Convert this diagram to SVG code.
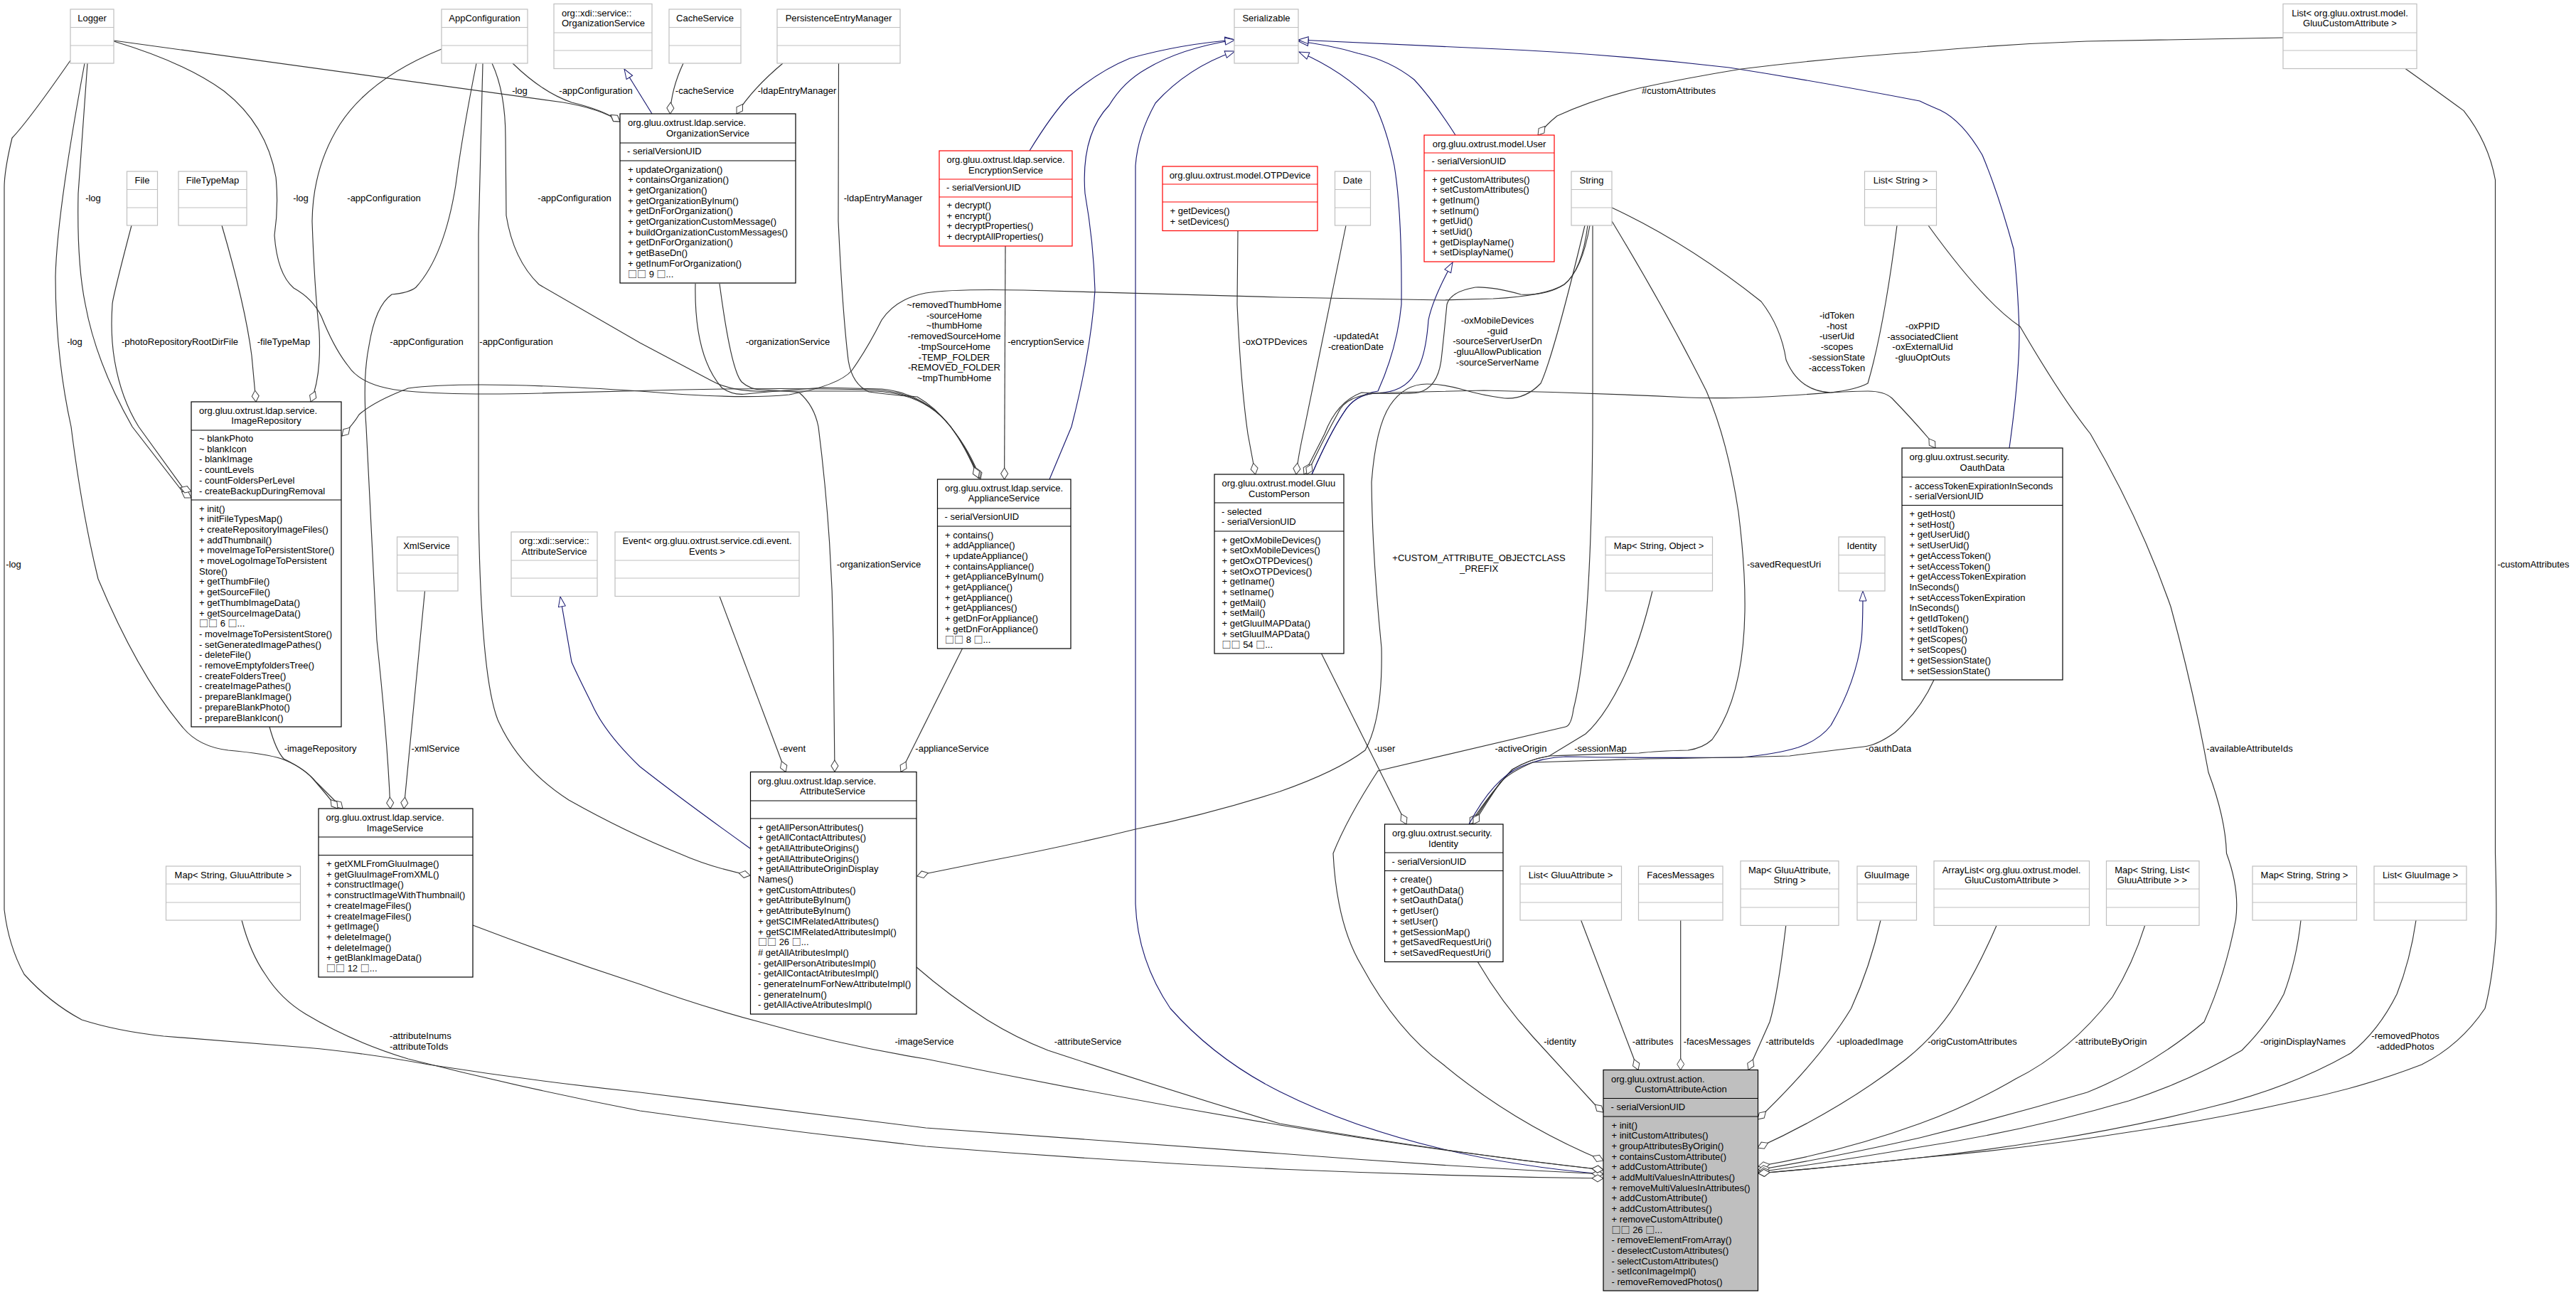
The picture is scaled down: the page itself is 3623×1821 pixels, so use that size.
<svg xmlns="http://www.w3.org/2000/svg" width="3623" height="1821" viewBox="0 0 3623 1821">
<style>
text{font-family:"Liberation Sans",Arial,sans-serif;font-size:13px;fill:#000}
.m{text-anchor:middle}
.q{font-family:"Noto Sans CJK SC",sans-serif}
rect{fill:#fff;stroke-width:1.2}
line{stroke-width:1.2}
.g rect,.g line{stroke:#bfbfbf;stroke-width:1.2}
.k rect,.k line{stroke:#000}
.r rect,.r line{stroke:#f00}
.a rect{fill:#bfbfbf}
.e path{fill:none;stroke:#333;stroke-width:1.15;marker-end:url(#dia)}
.e path.b{stroke:#191970;marker-end:url(#tri)}
.e path.n{stroke:#191970;marker-end:none}
</style>
<defs>
<marker id="dia" markerUnits="userSpaceOnUse" markerWidth="18" markerHeight="12" viewBox="-1 -1 18 12" refX="16" refY="5" orient="auto"><polygon points="0,5 8,0 16,5 8,10" fill="#fff" stroke="#404040"/></marker>
<marker id="tri" markerUnits="userSpaceOnUse" markerWidth="16" markerHeight="12" viewBox="-1 -1 16 12" refX="14" refY="5" orient="auto"><polygon points="0,0 14,5 0,10" fill="#fff" stroke="#191970"/></marker>
</defs>
<rect width="3623" height="1821" style="fill:#fff;stroke:none"/>
<g id="connectors" class="e">
<path d="M160,57 L792,144 Q845,153 872,171"/>
<path d="M721,89 Q763,130 804,144 Q850,155 872,171"/>
<path class="b" d="M917,160 L878,97"/>
<path d="M961,89 Q944,125 942.5,160"/>
<path d="M1101,89 Q1058,125 1036,160"/>
<path d="M1179.5,89 L1179,311 Q1185,440 1193,506 Q1198,540 1222,551 Q1260,556 1290,558 Q1315,572 1337,600 Q1365,635 1379,674"/>
<path d="M160,58 Q260,88 315,128 Q375,175 388,249 Q392,290 386,331 Q390,385 413,405 Q440,420 452,445 Q470,490 490,515 Q510,545 574,550 Q640,556 760,553 L960,548 Q1100,545 1230,548 Q1300,552 1337,600 Q1362,632 1376,672"/>
<path d="M692,89 Q711,130 711,194 L712,303 Q722,365 758,400 L900,482 L1000,535 Q1030,552 1080,550 L1230,550 Q1300,553 1337,600 Q1360,630 1378,672"/>
<path d="M978,399 Q976,500 1015,545 Q1030,556 1049,554 Q1110,548 1158,545 L1240,547 Q1300,553 1337,600 Q1358,628 1376,672"/>
<path d="M1012,399 Q1028,520 1043,537 Q1055,548 1072,548 Q1110,550 1124,552 Q1145,570 1151,600 Q1170,750 1172,900 L1174,1085"/>
<path d="M679,89 L673,330 L673,717 Q676,950 700,1012 Q730,1080 800,1125 Q880,1170 955,1200 Q1000,1220 1055,1231"/>
<path d="M621,69 Q520,110 478,175 Q440,235 439,311 Q442,400 449,467 Q452,530 437,565"/>
<path d="M670,89 Q650,190 641,260 Q625,360 585,404 Q575,412 551,414 Q528,430 519,486 Q510,530 515,600 L530,900 Q545,1040 549,1137"/>
<path d="M597.5,831 L568,1137"/>
<path d="M379,1022 Q388,1055 399,1067 Q430,1082 445,1100 Q465,1120 482,1137"/>
<path d="M119,89 Q80,300 78,389 Q78,500 100,600 Q115,720 138,814 Q195,950 258,1024 Q280,1050 321,1055 Q375,1060 396,1067 Q425,1078 440,1095 Q460,1118 475,1137"/>
<path d="M123,89 L110,272 Q108,370 120,428 Q135,510 186,600 L258,693 L269,700"/>
<path d="M185,317 Q158,420 158,428 Q155,470 161,506 Q170,560 195,600 L258,687 L269,691"/>
<path d="M312,317 Q345,430 354,500 L360,565"/>
<path d="M2236,317 Q2225,380 2200,400 Q2175,416 2100,420 L2030,422 L1800,418 L1440,408 Q1340,406 1302,412 Q1260,420 1240,450 Q1220,490 1198,521 Q1180,542 1110,555 Q1040,562 900,550 Q760,541 677,541 Q610,541 574,546 Q525,565 505,583 Q498,595 481,613"/>
<path class="b" d="M1448,212 Q1480,160 1503,136 Q1545,100 1589,82 Q1660,62 1737,56"/>
<path class="b" d="M1476,674 L1507,600 Q1535,490 1540,408 Q1538,340 1526,272 Q1520,190 1560,148 Q1580,115 1612,97 Q1660,68 1737,56"/>
<path class="b" d="M2255,1651 Q2130,1640 2030,1616 Q1900,1585 1800,1535 Q1710,1490 1646,1418 Q1600,1350 1597,1271 L1597,233 Q1600,190 1625,145 Q1670,95 1737,72"/>
<path class="b" d="M1055,1193 Q960,1125 900,1078 Q850,1030 832,989 Q810,945 804,931 Q795,880 788,839"/>
<path d="M1012,838.5 L1105,1085.5"/>
<path d="M1353.5,912 L1267,1085.5"/>
<path d="M1414,346 L1412.6,674"/>
<path d="M1741,324 L1740,428 Q1745,540 1755,610 L1765.6,667"/>
<path d="M1893,317 Q1860,480 1835,600 Q1826,640 1823,667"/>
<path class="b" d="M1845,667 Q1870,610 1890,580 Q1905,555 1935,553 Q1975,552 1990,525 Q2005,505 2009,450 Q2015,420 2043,369"/>
<path class="b" d="M1845,667 Q1870,610 1890,580 Q1905,555 1938,550 Q1965,490 1971,428 Q1972,300 1961,233 Q1950,180 1932,144 Q1890,100 1827,73"/>
<path class="b" d="M2047,190 Q2015,140 1989,112 Q1955,85 1910,75 Q1870,63 1826,58"/>
<path class="b" d="M2826,630 Q2840,530 2840,467 Q2838,400 2832,350 Q2810,270 2788,218 Q2760,170 2729,155 Q2710,147 2700,142 Q2560,115 2432,95 Q2260,75 2087,68 L1826,56"/>
<path d="M2233,317 Q2225,380 2200,400 Q2175,416 2139,414 Q2100,403 2075,404 Q2040,410 2035,428 Q2030,480 2027,506 Q2022,545 1995,552 Q1975,555 1915,552 Q1880,565 1863,610 L1834,667"/>
<path d="M2229,317 Q2185,500 2167,539 Q2145,562 2116,560 Q2085,556 2058,548 Q2030,540 2007,540 Q1975,540 1955,570 Q1935,600 1929,678 Q1930,780 1943,911 Q1945,1010 1920,1055 Q1880,1085 1800,1113 Q1700,1145 1597,1166 Q1500,1190 1394,1210 L1300,1229 L1290,1232"/>
<path d="M2668,317 Q2650,460 2627,539 Q2610,548 2575,552 Q2450,562 2374,559 Q2230,552 2087,549 L1955,552 Q1900,552 1885,575 Q1860,620 1838,667"/>
<path d="M2267,292 Q2374,342 2477,424 Q2505,460 2512,506 Q2530,550 2575,552 Q2610,550 2627,550 Q2650,550 2661,560 Q2690,590 2713,617 L2722,630"/>
<path d="M2240,317 L2240,600 Q2238,900 2213,997 Q2210,1020 2202,1022 L1938,1084 Q1895,1150 1875,1200 Q1880,1300 1915,1358 Q1965,1450 2030,1497 Q2130,1580 2255,1632"/>
<path d="M2267,311 Q2345,440 2400,550 Q2430,620 2445,720 Q2455,800 2454,860 Q2452,980 2408,1040 Q2395,1052 2374,1055 Q2330,1056 2305,1059 Q2260,1060 2179,1063 Q2150,1068 2127,1082 Q2100,1110 2070,1159"/>
<path d="M2324,831 Q2305,910 2280,960 Q2255,1010 2230,1032 L2179,1063 Q2150,1068 2127,1082 Q2100,1110 2067,1159"/>
<path class="b" d="M2066,1159 Q2100,1095 2139,1078 Q2170,1065 2202,1064 Q2310,1066 2449,1065 Q2500,1060 2529,1051 Q2560,1040 2575,1020 Q2610,960 2618,900 Q2620,880 2620,831"/>
<path d="M2720,956 Q2700,1000 2665,1030 Q2640,1048 2621,1050 Q2570,1056 2517,1063 Q2400,1066 2317,1067 L2156,1072 Q2125,1085 2110,1100 Q2090,1130 2072,1159"/>
<path d="M1858.5,919 L1978,1159"/>
<path d="M2078,1352 Q2112,1410 2156,1458 L2242,1552 L2255,1564"/>
<path d="M2223.6,1294 L2304,1504.5"/>
<path d="M2363.7,1294 L2363.7,1504.5"/>
<path d="M2511.8,1301.4 Q2500,1400 2489,1437 L2459,1504.5"/>
<path d="M2645,1294 Q2630,1360 2603.6,1418 Q2560,1490 2472,1574"/>
<path d="M2808,1301.4 Q2785,1355 2759,1398 Q2730,1450 2680,1490 Q2590,1560 2472,1614"/>
<path d="M3016.7,1301.4 Q3000,1355 2971,1402 Q2910,1480 2835,1517 Q2770,1555 2700,1580 Q2590,1620 2473,1640"/>
<path d="M2712,317 Q2790,425 2841,459 Q2900,560 2940,610 Q3010,730 3053,853 Q3085,970 3106,1086 Q3130,1150 3131.5,1200 Q3150,1250 3144.5,1293 Q3130,1370 3100,1437 Q3025,1500 2935.5,1536 Q2820,1570 2700,1600 Q2590,1625 2473,1645"/>
<path d="M3236,1294 Q3230,1350 3212,1398 Q3190,1440 3153,1477 Q3080,1520 2994,1548 Q2850,1590 2700,1613 Q2590,1632 2473,1648"/>
<path d="M3398,1294 Q3390,1350 3371,1398 Q3345,1450 3306,1481 Q3220,1530 3112,1556 Q3000,1585 2877,1604 Q2790,1618 2700,1628 Q2590,1640 2473,1650"/>
<path d="M3383,96.5 Q3430,130 3465,155.6 Q3500,200 3509.5,253 L3509.5,1200 Q3512,1290 3510,1319 Q3505,1380 3495,1418 Q3460,1470 3406,1497 Q3320,1530 3230,1548 Q3110,1575 2994,1592 Q2850,1615 2700,1628 Q2590,1640 2473,1650"/>
<path d="M3211,53 Q3070,56 2935,58 Q2820,62 2700,73 Q2570,82 2449,97 Q2370,110 2305,124 Q2240,140 2190,163 Q2175,175 2163,190"/>
<path d="M99,85 Q40,170 17,194 Q6,240 6,264 L6,1279 Q12,1330 34,1370 Q70,1410 115,1434 Q165,1450 230,1457 Q330,1465 430,1473 Q510,1480 603,1497 Q750,1520 900,1536 Q1100,1560 1302,1586 Q1550,1605 1800,1622 Q2030,1640 2255,1651"/>
<path d="M340,1294 Q352,1340 373,1370 Q395,1405 430,1426 Q495,1465 574,1489 Q735,1530 900,1562 Q1100,1590 1302,1612 Q1550,1632 1800,1644 Q2030,1654 2255,1657"/>
<path d="M665,1301 Q780,1345 900,1384 Q985,1415 1072,1438 Q1185,1470 1302,1489 Q1550,1540 1800,1582 Q2030,1620 2255,1645"/>
<path d="M1289,1360 Q1335,1400 1388,1434 Q1430,1460 1474,1477 Q1635,1530 1800,1580 Q2030,1620 2255,1645"/>
<g id="edge-labels">
<text class="m" x="731" y="132">-log</text>
<text class="m" x="838" y="132">-appConfiguration</text>
<text class="m" x="991" y="132">-cacheService</text>
<text class="m" x="1121" y="132">-ldapEntryManager</text>
<text class="m" x="2361" y="132">#customAttributes</text>
<text class="m" x="131" y="283">-log</text>
<text class="m" x="423" y="283">-log</text>
<text class="m" x="540" y="283">-appConfiguration</text>
<text class="m" x="808" y="283">-appConfiguration</text>
<text class="m" x="1242" y="283">-ldapEntryManager</text>
<text class="m" x="105" y="485">-log</text>
<text class="m" x="253" y="485">-photoRepositoryRootDirFile</text>
<text class="m" x="399" y="485">-fileTypeMap</text>
<text class="m" x="600" y="485">-appConfiguration</text>
<text class="m" x="726" y="485">-appConfiguration</text>
<text class="m" x="1108" y="485">-organizationService</text>
<text class="m" x="1471" y="485">-encryptionService</text>
<text class="m" x="1793" y="485">-oxOTPDevices</text>
<text class="m" y="433"><tspan x="1342">~removedThumbHome</tspan><tspan x="1342" dy="14.7">-sourceHome</tspan><tspan x="1342" dy="14.7">~thumbHome</tspan><tspan x="1342" dy="14.7">-removedSourceHome</tspan><tspan x="1342" dy="14.7">-tmpSourceHome</tspan><tspan x="1342" dy="14.7">-TEMP_FOLDER</tspan><tspan x="1342" dy="14.7">-REMOVED_FOLDER</tspan><tspan x="1342" dy="14.7">~tmpThumbHome</tspan></text>
<text class="m" y="477"><tspan x="1907">-updatedAt</tspan><tspan x="1907" dy="14.7">-creationDate</tspan></text>
<text class="m" y="455"><tspan x="2106">-oxMobileDevices</tspan><tspan x="2106" dy="14.7">-guid</tspan><tspan x="2106" dy="14.7">-sourceServerUserDn</tspan><tspan x="2106" dy="14.7">-gluuAllowPublication</tspan><tspan x="2106" dy="14.7">-sourceServerName</tspan></text>
<text class="m" y="448"><tspan x="2583.5">-idToken</tspan><tspan x="2583.5" dy="14.7">-host</tspan><tspan x="2583.5" dy="14.7">-userUid</tspan><tspan x="2583.5" dy="14.7">-scopes</tspan><tspan x="2583.5" dy="14.7">-sessionState</tspan><tspan x="2583.5" dy="14.7">-accessToken</tspan></text>
<text class="m" y="463"><tspan x="2704">-oxPPID</tspan><tspan x="2704" dy="14.7">-associatedClient</tspan><tspan x="2704" dy="14.7">-oxExternalUid</tspan><tspan x="2704" dy="14.7">-gluuOptOuts</tspan></text>
<text class="m" x="19" y="798">-log</text>
<text class="m" x="1236" y="798">-organizationService</text>
<text class="m" y="789"><tspan x="2080">+CUSTOM_ATTRIBUTE_OBJECTCLASS</tspan><tspan x="2080" dy="14.7">_PREFIX</tspan></text>
<text class="m" x="2509" y="798">-savedRequestUri</text>
<text class="m" x="3563" y="798">-customAttributes</text>
<text class="m" x="450.6" y="1057">-imageRepository</text>
<text class="m" x="612.5" y="1057">-xmlService</text>
<text class="m" x="1115" y="1057">-event</text>
<text class="m" x="1339" y="1057">-applianceService</text>
<text class="m" x="1947.5" y="1057">-user</text>
<text class="m" x="2139" y="1057">-activeOrigin</text>
<text class="m" x="2251" y="1057">-sessionMap</text>
<text class="m" x="2656" y="1057">-oauthData</text>
<text class="m" x="3164" y="1057">-availableAttributeIds</text>
<text y="1461"><tspan x="548">-attributeInums</tspan><tspan x="548" dy="14.7">-attributeToIds</tspan></text>
<text class="m" x="1300" y="1469">-imageService</text>
<text class="m" x="1530" y="1469">-attributeService</text>
<text class="m" x="2194" y="1469">-identity</text>
<text class="m" x="2324.6" y="1469">-attributes</text>
<text class="m" x="2415" y="1469">-facesMessages</text>
<text class="m" x="2517.5" y="1469">-attributeIds</text>
<text class="m" x="2630" y="1469">-uploadedImage</text>
<text class="m" x="2774" y="1469">-origCustomAttributes</text>
<text class="m" x="2969" y="1469">-attributeByOrigin</text>
<text class="m" x="3239" y="1469">-originDisplayNames</text>
<text class="m" y="1461"><tspan x="3383">-removedPhotos</tspan><tspan x="3383" dy="14.7">-addedPhotos</tspan></text>
</g>
</g>
<g id="logger" class="g"><rect x="99" y="13" width="61" height="76"/><line x1="99" y1="38.5" x2="160" y2="38.5"/><line x1="99" y1="64" x2="160" y2="64"/><text class="m" x="129.5" y="30">Logger</text></g>
<g id="app-configuration" class="g"><rect x="621" y="13" width="121" height="76"/><line x1="621" y1="38.5" x2="742" y2="38.5"/><line x1="621" y1="64" x2="742" y2="64"/><text class="m" x="681.5" y="30">AppConfiguration</text></g>
<g id="xdi-organization-service" class="g"><rect x="779" y="5.5" width="138" height="91"/><line x1="779" y1="46" x2="917" y2="46"/><line x1="779" y1="71" x2="917" y2="71"/><text y="22.5"><tspan x="790">org::xdi::service::</tspan><tspan x="790" dy="14.7">OrganizationService</tspan></text></g>
<g id="cache-service" class="g"><rect x="941" y="13" width="101" height="76"/><line x1="941" y1="38.5" x2="1042" y2="38.5"/><line x1="941" y1="64" x2="1042" y2="64"/><text class="m" x="991.5" y="30">CacheService</text></g>
<g id="persistence-entry-manager" class="g"><rect x="1093" y="13" width="173" height="76"/><line x1="1093" y1="38.5" x2="1266" y2="38.5"/><line x1="1093" y1="64" x2="1266" y2="64"/><text class="m" x="1179.5" y="30">PersistenceEntryManager</text></g>
<g id="serializable" class="g"><rect x="1736" y="13" width="90" height="76"/><line x1="1736" y1="38.5" x2="1826" y2="38.5"/><line x1="1736" y1="64" x2="1826" y2="64"/><text class="m" x="1781" y="30">Serializable</text></g>
<g id="list-gluu-custom-attribute" class="g"><rect x="3211" y="5.5" width="188" height="91"/><line x1="3211" y1="46" x2="3399" y2="46"/><line x1="3211" y1="71" x2="3399" y2="71"/><text class="m" y="22.5"><tspan x="3305">List&lt; org.gluu.oxtrust.model.</tspan><tspan x="3305" dy="14.7">GluuCustomAttribute &gt;</tspan></text></g>
<g id="organization-service" class="k"><rect x="872" y="160" width="247" height="238"/><line x1="872" y1="201" x2="1119" y2="201"/><line x1="872" y1="226" x2="1119" y2="226"/><text x="883" y="177">org.gluu.oxtrust.ldap.service.</text><text class="m" x="995.5" y="191.5">OrganizationService</text><text x="882" y="217">- serialVersionUID</text><text y="242.5"><tspan x="883">+ updateOrganization()</tspan><tspan x="883" dy="14.7">+ containsOrganization()</tspan><tspan x="883" dy="14.7">+ getOrganization()</tspan><tspan x="883" dy="14.7">+ getOrganizationByInum()</tspan><tspan x="883" dy="14.7">+ getDnForOrganization()</tspan><tspan x="883" dy="14.7">+ getOrganizationCustomMessage()</tspan><tspan x="883" dy="14.7">+ buildOrganizationCustomMessages()</tspan><tspan x="883" dy="14.7">+ getDnForOrganization()</tspan><tspan x="883" dy="14.7">+ getBaseDn()</tspan><tspan x="883" dy="14.7">+ getInumForOrganization()</tspan><tspan x="883" dy="14.7"><tspan class="q">□□</tspan> 9 <tspan class="q">□</tspan>...</tspan></text></g>
<g id="file" class="g"><rect x="178.5" y="241" width="43" height="76"/><line x1="178.5" y1="266.5" x2="221.5" y2="266.5"/><line x1="178.5" y1="292" x2="221.5" y2="292"/><text class="m" x="200" y="258">File</text></g>
<g id="file-type-map" class="g"><rect x="251" y="241" width="96" height="76"/><line x1="251" y1="266.5" x2="347" y2="266.5"/><line x1="251" y1="292" x2="347" y2="292"/><text class="m" x="299" y="258">FileTypeMap</text></g>
<g id="encryption-service" class="r"><rect x="1321" y="212" width="187" height="134"/><line x1="1321" y1="252" x2="1508" y2="252"/><line x1="1321" y1="277" x2="1508" y2="277"/><text x="1331.5" y="229">org.gluu.oxtrust.ldap.service.</text><text class="m" x="1414.5" y="243.7">EncryptionService</text><text x="1331" y="268">- serialVersionUID</text><text y="293"><tspan x="1331.5">+ decrypt()</tspan><tspan x="1331.5" dy="14.7">+ encrypt()</tspan><tspan x="1331.5" dy="14.7">+ decryptProperties()</tspan><tspan x="1331.5" dy="14.7">+ decryptAllProperties()</tspan></text></g>
<g id="otp-device" class="r"><rect x="1635" y="234" width="218" height="90.5"/><line x1="1635" y1="259" x2="1853" y2="259"/><line x1="1635" y1="284" x2="1853" y2="284"/><text class="m" x="1744" y="251">org.gluu.oxtrust.model.OTPDevice</text><text y="301"><tspan x="1645.5">+ getDevices()</tspan><tspan x="1645.5" dy="14.7">+ setDevices()</tspan></text></g>
<g id="date" class="g"><rect x="1877.5" y="241" width="50" height="76"/><line x1="1877.5" y1="266.5" x2="1927.5" y2="266.5"/><line x1="1877.5" y1="292" x2="1927.5" y2="292"/><text class="m" x="1902.5" y="258">Date</text></g>
<g id="user" class="r"><rect x="2003" y="190" width="183" height="178"/><line x1="2003" y1="215" x2="2186" y2="215"/><line x1="2003" y1="240" x2="2186" y2="240"/><text class="m" x="2094.5" y="207">org.gluu.oxtrust.model.User</text><text x="2013.5" y="231">- serialVersionUID</text><text y="256.5"><tspan x="2014">+ getCustomAttributes()</tspan><tspan x="2014" dy="14.7">+ setCustomAttributes()</tspan><tspan x="2014" dy="14.7">+ getInum()</tspan><tspan x="2014" dy="14.7">+ setInum()</tspan><tspan x="2014" dy="14.7">+ getUid()</tspan><tspan x="2014" dy="14.7">+ setUid()</tspan><tspan x="2014" dy="14.7">+ getDisplayName()</tspan><tspan x="2014" dy="14.7">+ setDisplayName()</tspan></text></g>
<g id="string" class="g"><rect x="2210" y="241" width="57" height="76"/><line x1="2210" y1="266.5" x2="2267" y2="266.5"/><line x1="2210" y1="292" x2="2267" y2="292"/><text class="m" x="2238.5" y="258">String</text></g>
<g id="list-string" class="g"><rect x="2622.5" y="241" width="101" height="76"/><line x1="2622.5" y1="266.5" x2="2723.5" y2="266.5"/><line x1="2622.5" y1="292" x2="2723.5" y2="292"/><text class="m" x="2673" y="258">List&lt; String &gt;</text></g>
<g id="image-repository" class="k"><rect x="269" y="565" width="211" height="457"/><line x1="269" y1="605" x2="480" y2="605"/><line x1="269" y1="703" x2="480" y2="703"/><text x="280" y="581.5">org.gluu.oxtrust.ldap.service.</text><text class="m" x="374.5" y="596">ImageRepository</text><text y="621"><tspan x="280">~ blankPhoto</tspan><tspan x="280" dy="14.7">~ blankIcon</tspan><tspan x="280" dy="14.7">- blankImage</tspan><tspan x="280" dy="14.7">- countLevels</tspan><tspan x="280" dy="14.7">- countFoldersPerLevel</tspan><tspan x="280" dy="14.7">- createBackupDuringRemoval</tspan></text><text y="719.5"><tspan x="280">+ init()</tspan><tspan x="280" dy="14.7">+ initFileTypesMap()</tspan><tspan x="280" dy="14.7">+ createRepositoryImageFiles()</tspan><tspan x="280" dy="14.7">+ addThumbnail()</tspan><tspan x="280" dy="14.7">+ moveImageToPersistentStore()</tspan><tspan x="280" dy="14.7">+ moveLogoImageToPersistent</tspan><tspan x="280" dy="14.7">Store()</tspan><tspan x="280" dy="14.7">+ getThumbFile()</tspan><tspan x="280" dy="14.7">+ getSourceFile()</tspan><tspan x="280" dy="14.7">+ getThumbImageData()</tspan><tspan x="280" dy="14.7">+ getSourceImageData()</tspan><tspan x="280" dy="14.7"><tspan class="q">□□</tspan> 6 <tspan class="q">□</tspan>...</tspan><tspan x="280" dy="14.7">- moveImageToPersistentStore()</tspan><tspan x="280" dy="14.7">- setGeneratedImagePathes()</tspan><tspan x="280" dy="14.7">- deleteFile()</tspan><tspan x="280" dy="14.7">- removeEmptyfoldersTree()</tspan><tspan x="280" dy="14.7">- createFoldersTree()</tspan><tspan x="280" dy="14.7">- createImagePathes()</tspan><tspan x="280" dy="14.7">- prepareBlankImage()</tspan><tspan x="280" dy="14.7">- prepareBlankPhoto()</tspan><tspan x="280" dy="14.7">- prepareBlankIcon()</tspan></text></g>
<g id="xml-service" class="g"><rect x="558.5" y="755" width="85.5" height="76"/><line x1="558.5" y1="780.5" x2="644" y2="780.5"/><line x1="558.5" y1="806" x2="644" y2="806"/><text class="m" x="600" y="772">XmlService</text></g>
<g id="xdi-attribute-service" class="g"><rect x="719" y="748" width="121" height="90.5"/><line x1="719" y1="788" x2="840" y2="788"/><line x1="719" y1="813" x2="840" y2="813"/><text class="m" y="765"><tspan x="779.5">org::xdi::service::</tspan><tspan x="779.5" dy="14.7">AttributeService</tspan></text></g>
<g id="event" class="g"><rect x="865" y="748" width="259" height="90.5"/><line x1="865" y1="788" x2="1124" y2="788"/><line x1="865" y1="813" x2="1124" y2="813"/><text class="m" y="765"><tspan x="994.5">Event&lt; org.gluu.oxtrust.service.cdi.event.</tspan><tspan x="994.5" dy="14.7">Events &gt;</tspan></text></g>
<g id="appliance-service" class="k"><rect x="1318.5" y="674" width="187.5" height="238"/><line x1="1318.5" y1="715" x2="1506" y2="715"/><line x1="1318.5" y1="740" x2="1506" y2="740"/><text x="1329" y="691">org.gluu.oxtrust.ldap.service.</text><text class="m" x="1412" y="705">ApplianceService</text><text x="1328.5" y="731">- serialVersionUID</text><text y="756.5"><tspan x="1329">+ contains()</tspan><tspan x="1329" dy="14.7">+ addAppliance()</tspan><tspan x="1329" dy="14.7">+ updateAppliance()</tspan><tspan x="1329" dy="14.7">+ containsAppliance()</tspan><tspan x="1329" dy="14.7">+ getApplianceByInum()</tspan><tspan x="1329" dy="14.7">+ getAppliance()</tspan><tspan x="1329" dy="14.7">+ getAppliance()</tspan><tspan x="1329" dy="14.7">+ getAppliances()</tspan><tspan x="1329" dy="14.7">+ getDnForAppliance()</tspan><tspan x="1329" dy="14.7">+ getDnForAppliance()</tspan><tspan x="1329" dy="14.7"><tspan class="q">□□</tspan> 8 <tspan class="q">□</tspan>...</tspan></text></g>
<g id="gluu-custom-person" class="k"><rect x="1708" y="667" width="182" height="252"/><line x1="1708" y1="707" x2="1890" y2="707"/><line x1="1708" y1="747" x2="1890" y2="747"/><text x="1718.5" y="684">org.gluu.oxtrust.model.Gluu</text><text class="m" x="1799" y="698.5">CustomPerson</text><text y="723.5"><tspan x="1718">- selected</tspan><tspan x="1718" dy="14.7">- serialVersionUID</tspan></text><text y="763.5"><tspan x="1718.5">+ getOxMobileDevices()</tspan><tspan x="1718.5" dy="14.7">+ setOxMobileDevices()</tspan><tspan x="1718.5" dy="14.7">+ getOxOTPDevices()</tspan><tspan x="1718.5" dy="14.7">+ setOxOTPDevices()</tspan><tspan x="1718.5" dy="14.7">+ getIname()</tspan><tspan x="1718.5" dy="14.7">+ setIname()</tspan><tspan x="1718.5" dy="14.7">+ getMail()</tspan><tspan x="1718.5" dy="14.7">+ setMail()</tspan><tspan x="1718.5" dy="14.7">+ getGluuIMAPData()</tspan><tspan x="1718.5" dy="14.7">+ setGluuIMAPData()</tspan><tspan x="1718.5" dy="14.7"><tspan class="q">□□</tspan> 54 <tspan class="q">□</tspan>...</tspan></text></g>
<g id="oauth-data" class="k"><rect x="2675" y="630" width="226" height="326"/><line x1="2675" y1="671" x2="2901" y2="671"/><line x1="2675" y1="710.5" x2="2901" y2="710.5"/><text x="2685.5" y="647">org.gluu.oxtrust.security.</text><text class="m" x="2788" y="661.5">OauthData</text><text y="687.5"><tspan x="2685">- accessTokenExpirationInSeconds</tspan><tspan x="2685" dy="14.7">- serialVersionUID</tspan></text><text y="727"><tspan x="2685.5">+ getHost()</tspan><tspan x="2685.5" dy="14.7">+ setHost()</tspan><tspan x="2685.5" dy="14.7">+ getUserUid()</tspan><tspan x="2685.5" dy="14.7">+ setUserUid()</tspan><tspan x="2685.5" dy="14.7">+ getAccessToken()</tspan><tspan x="2685.5" dy="14.7">+ setAccessToken()</tspan><tspan x="2685.5" dy="14.7">+ getAccessTokenExpiration</tspan><tspan x="2685.5" dy="14.7">InSeconds()</tspan><tspan x="2685.5" dy="14.7">+ setAccessTokenExpiration</tspan><tspan x="2685.5" dy="14.7">InSeconds()</tspan><tspan x="2685.5" dy="14.7">+ getIdToken()</tspan><tspan x="2685.5" dy="14.7">+ setIdToken()</tspan><tspan x="2685.5" dy="14.7">+ getScopes()</tspan><tspan x="2685.5" dy="14.7">+ setScopes()</tspan><tspan x="2685.5" dy="14.7">+ getSessionState()</tspan><tspan x="2685.5" dy="14.7">+ setSessionState()</tspan></text></g>
<g id="map-string-object" class="g"><rect x="2258" y="755" width="150.5" height="76"/><line x1="2258" y1="780.5" x2="2408.5" y2="780.5"/><line x1="2258" y1="806" x2="2408.5" y2="806"/><text class="m" x="2333" y="772">Map&lt; String, Object &gt;</text></g>
<g id="identity-base" class="g"><rect x="2586" y="755" width="65" height="76"/><line x1="2586" y1="780.5" x2="2651" y2="780.5"/><line x1="2586" y1="806" x2="2651" y2="806"/><text class="m" x="2618.5" y="772">Identity</text></g>
<g id="identity" class="k"><rect x="1947.5" y="1159" width="166.5" height="193.5"/><line x1="1947.5" y1="1199" x2="2114" y2="1199"/><line x1="1947.5" y1="1224.5" x2="2114" y2="1224.5"/><text x="1958" y="1176">org.gluu.oxtrust.security.</text><text class="m" x="2030" y="1191">Identity</text><text x="1957.5" y="1215.5">- serialVersionUID</text><text y="1241"><tspan x="1958">+ create()</tspan><tspan x="1958" dy="14.7">+ getOauthData()</tspan><tspan x="1958" dy="14.7">+ setOauthData()</tspan><tspan x="1958" dy="14.7">+ getUser()</tspan><tspan x="1958" dy="14.7">+ setUser()</tspan><tspan x="1958" dy="14.7">+ getSessionMap()</tspan><tspan x="1958" dy="14.7">+ getSavedRequestUri()</tspan><tspan x="1958" dy="14.7">+ setSavedRequestUri()</tspan></text></g>
<g id="image-service" class="k"><rect x="448" y="1137" width="217" height="237"/><line x1="448" y1="1177" x2="665" y2="1177"/><line x1="448" y1="1202.5" x2="665" y2="1202.5"/><text x="458.5" y="1154">org.gluu.oxtrust.ldap.service.</text><text class="m" x="555.5" y="1168.5">ImageService</text><text y="1219"><tspan x="459">+ getXMLFromGluuImage()</tspan><tspan x="459" dy="14.7">+ getGluuImageFromXML()</tspan><tspan x="459" dy="14.7">+ constructImage()</tspan><tspan x="459" dy="14.7">+ constructImageWithThumbnail()</tspan><tspan x="459" dy="14.7">+ createImageFiles()</tspan><tspan x="459" dy="14.7">+ createImageFiles()</tspan><tspan x="459" dy="14.7">+ getImage()</tspan><tspan x="459" dy="14.7">+ deleteImage()</tspan><tspan x="459" dy="14.7">+ deleteImage()</tspan><tspan x="459" dy="14.7">+ getBlankImageData()</tspan><tspan x="459" dy="14.7"><tspan class="q">□□</tspan> 12 <tspan class="q">□</tspan>...</tspan></text></g>
<g id="attribute-service" class="k"><rect x="1055.5" y="1085.5" width="233.5" height="340.5"/><line x1="1055.5" y1="1126" x2="1289" y2="1126"/><line x1="1055.5" y1="1151" x2="1289" y2="1151"/><text x="1066" y="1102.5">org.gluu.oxtrust.ldap.service.</text><text class="m" x="1171" y="1117">AttributeService</text><text y="1167.5"><tspan x="1066">+ getAllPersonAttributes()</tspan><tspan x="1066" dy="14.7">+ getAllContactAttributes()</tspan><tspan x="1066" dy="14.7">+ getAllAttributeOrigins()</tspan><tspan x="1066" dy="14.7">+ getAllAttributeOrigins()</tspan><tspan x="1066" dy="14.7">+ getAllAttributeOriginDisplay</tspan><tspan x="1066" dy="14.7">Names()</tspan><tspan x="1066" dy="14.7">+ getCustomAttributes()</tspan><tspan x="1066" dy="14.7">+ getAttributeByInum()</tspan><tspan x="1066" dy="14.7">+ getAttributeByInum()</tspan><tspan x="1066" dy="14.7">+ getSCIMRelatedAttributes()</tspan><tspan x="1066" dy="14.7">+ getSCIMRelatedAttributesImpl()</tspan><tspan x="1066" dy="14.7"><tspan class="q">□□</tspan> 26 <tspan class="q">□</tspan>...</tspan><tspan x="1066" dy="14.7"># getAllAtributesImpl()</tspan><tspan x="1066" dy="14.7">- getAllPersonAtributesImpl()</tspan><tspan x="1066" dy="14.7">- getAllContactAtributesImpl()</tspan><tspan x="1066" dy="14.7">- generateInumForNewAttributeImpl()</tspan><tspan x="1066" dy="14.7">- generateInum()</tspan><tspan x="1066" dy="14.7">- getAllActiveAtributesImpl()</tspan></text></g>
<g id="map-string-gluu-attribute" class="g"><rect x="233.5" y="1218" width="189" height="76"/><line x1="233.5" y1="1243" x2="422.5" y2="1243"/><line x1="233.5" y1="1269" x2="422.5" y2="1269"/><text class="m" x="328" y="1235">Map&lt; String, GluuAttribute &gt;</text></g>
<g id="list-gluu-attribute" class="g"><rect x="2138" y="1218" width="142.5" height="76"/><line x1="2138" y1="1243" x2="2280.5" y2="1243"/><line x1="2138" y1="1269" x2="2280.5" y2="1269"/><text class="m" x="2209" y="1235">List&lt; GluuAttribute &gt;</text></g>
<g id="faces-messages" class="g"><rect x="2304.5" y="1218" width="118.5" height="76"/><line x1="2304.5" y1="1243" x2="2423" y2="1243"/><line x1="2304.5" y1="1269" x2="2423" y2="1269"/><text class="m" x="2363.7" y="1235">FacesMessages</text></g>
<g id="map-gluu-attribute-string" class="g"><rect x="2448" y="1210.7" width="138" height="90.7"/><line x1="2448" y1="1250" x2="2586" y2="1250"/><line x1="2448" y1="1276" x2="2586" y2="1276"/><text class="m" y="1227.5"><tspan x="2517">Map&lt; GluuAttribute,</tspan><tspan x="2517" dy="14.7">String &gt;</tspan></text></g>
<g id="gluu-image" class="g"><rect x="2612" y="1218" width="83.5" height="76"/><line x1="2612" y1="1243" x2="2695.5" y2="1243"/><line x1="2612" y1="1269" x2="2695.5" y2="1269"/><text class="m" x="2653.7" y="1235">GluuImage</text></g>
<g id="array-list-gluu-custom-attribute" class="g"><rect x="2720" y="1210.7" width="218.5" height="90.7"/><line x1="2720" y1="1250" x2="2938.5" y2="1250"/><line x1="2720" y1="1276" x2="2938.5" y2="1276"/><text class="m" y="1227.5"><tspan x="2829">ArrayList&lt; org.gluu.oxtrust.model.</tspan><tspan x="2829" dy="14.7">GluuCustomAttribute &gt;</tspan></text></g>
<g id="map-string-list-gluu-attribute" class="g"><rect x="2962.5" y="1210.7" width="130.5" height="90.7"/><line x1="2962.5" y1="1250" x2="3093" y2="1250"/><line x1="2962.5" y1="1276" x2="3093" y2="1276"/><text class="m" y="1227.5"><tspan x="3027">Map&lt; String, List&lt;</tspan><tspan x="3027" dy="14.7">GluuAttribute &gt; &gt;</tspan></text></g>
<g id="map-string-string" class="g"><rect x="3168" y="1218" width="146.5" height="76"/><line x1="3168" y1="1243" x2="3314.5" y2="1243"/><line x1="3168" y1="1269" x2="3314.5" y2="1269"/><text class="m" x="3241" y="1235">Map&lt; String, String &gt;</text></g>
<g id="list-gluu-image" class="g"><rect x="3339" y="1218" width="130" height="76"/><line x1="3339" y1="1243" x2="3469" y2="1243"/><line x1="3339" y1="1269" x2="3469" y2="1269"/><text class="m" x="3404" y="1235">List&lt; GluuImage &gt;</text></g>
<g id="custom-attribute-action" class="k a"><rect x="2255" y="1504.5" width="217.5" height="310.5"/><line x1="2255" y1="1544.5" x2="2472.5" y2="1544.5"/><line x1="2255" y1="1570" x2="2472.5" y2="1570"/><text x="2266" y="1521.5">org.gluu.oxtrust.action.</text><text class="m" x="2364" y="1535.5">CustomAttributeAction</text><text x="2265.5" y="1561">- serialVersionUID</text><text y="1586.5"><tspan x="2266.5">+ init()</tspan><tspan x="2266.5" dy="14.7">+ initCustomAttributes()</tspan><tspan x="2266.5" dy="14.7">+ groupAttributesByOrigin()</tspan><tspan x="2266.5" dy="14.7">+ containsCustomAttribute()</tspan><tspan x="2266.5" dy="14.7">+ addCustomAttribute()</tspan><tspan x="2266.5" dy="14.7">+ addMultiValuesInAttributes()</tspan><tspan x="2266.5" dy="14.7">+ removeMultiValuesInAttributes()</tspan><tspan x="2266.5" dy="14.7">+ addCustomAttribute()</tspan><tspan x="2266.5" dy="14.7">+ addCustomAttributes()</tspan><tspan x="2266.5" dy="14.7">+ removeCustomAttribute()</tspan><tspan x="2266.5" dy="14.7"><tspan class="q">□□</tspan> 26 <tspan class="q">□</tspan>...</tspan><tspan x="2266.5" dy="14.7">- removeElementFromArray()</tspan><tspan x="2266.5" dy="14.7">- deselectCustomAttributes()</tspan><tspan x="2266.5" dy="14.7">- selectCustomAttributes()</tspan><tspan x="2266.5" dy="14.7">- setIconImageImpl()</tspan><tspan x="2266.5" dy="14.7">- removeRemovedPhotos()</tspan></text></g>
</svg>
